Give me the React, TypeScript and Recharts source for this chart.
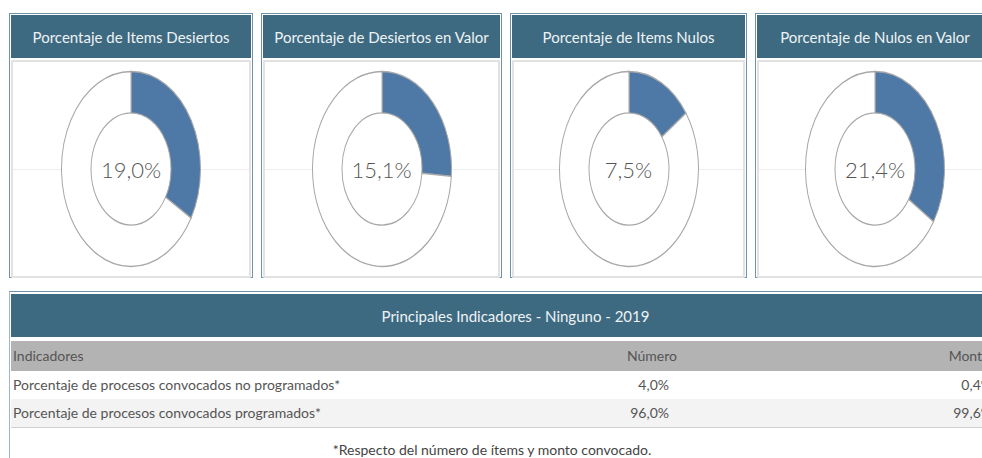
import React from 'react';
import { PieChart, Pie, Cell } from 'recharts';

const titles = [
  'Porcentaje de Items Desiertos',
  'Porcentaje de Desiertos en Valor',
  'Porcentaje de Items Nulos',
  'Porcentaje de Nulos en Valor',
];
const centerLabels = ['19,0%', '15,1%', '7,5%', '21,4%'];
// share of the ring drawn blue (percent)
const sliceShares = [33.4, 26.2, 15.3, 34.1];

const tableTitle = 'Principales Indicadores - Ninguno - 2019';
const columns = ['Indicadores', 'Número', 'Monto'];
const indicadores = [
  'Porcentaje de procesos convocados no programados*',
  'Porcentaje de procesos convocados programados*',
];
const numero = ['4,0%', '96,0%'];
const monto = ['0,4%', '99,6%'];
const footnote = '*Respecto del número de ítems y monto convocado.';

const BLUE = '#4e79a7';
const HEADER = '#3d6a81';
const FONT = 'Lato, Roboto, sans-serif';

const panelLeft = [9, 261, 510, 755];
const panelWidth = [244, 241, 237, 240];

function Donut({ share, label }: { share: number; label: string }) {
  const data = [
    { name: 'si', value: share },
    { name: 'no', value: 100 - share },
  ];
  const m = { top: 0, right: 0, bottom: 0, left: 0 };
  return (
    <div style={{ position: 'absolute', left: '50%', top: 107, width: 142, height: 142, marginLeft: -71, marginTop: -71 }}>
      <div style={{ width: 142, height: 142, transform: 'scaleY(1.403)' }}>
        <PieChart width={142} height={142} margin={m}>
          <Pie data={[{ v: 1 }]} dataKey="v" innerRadius={0} outerRadius={40}
            fill="#fff" stroke="none" isAnimationActive={false} />
          <Pie data={data} dataKey="value" innerRadius={40} outerRadius={69.5}
            startAngle={90} endAngle={-270} isAnimationActive={false}>
            {data.map((d, i) => (
              <Cell key={d.name} fill={i === 0 ? BLUE : '#ffffff'} stroke="#a8a8a8" strokeWidth={1}
                style={{ vectorEffect: 'non-scaling-stroke' } as any} />
            ))}
          </Pie>
        </PieChart>
      </div>
      <div style={{ position: 'absolute', left: 0, top: 58, width: 142, textAlign: 'center', fontSize: 22, color: '#555', fontFamily: FONT, fontWeight: 300 }}>
        {label}
      </div>
    </div>
  );
}

function Panel({ i }: { i: number }) {
  return (
    <div style={{ position: 'absolute', left: panelLeft[i], top: 13, width: panelWidth[i], height: 265,
      border: '1px solid #6f93a8', boxSizing: 'border-box', padding: 1, background: '#fff' }}>
      <div style={{ height: 43, background: HEADER, color: '#eef2f5', fontFamily: FONT, fontSize: 15,
        display: 'flex', alignItems: 'center', justifyContent: 'center' }}>
        {titles[i]}
      </div>
      <div style={{ position: 'relative', marginTop: 2, height: 214, border: '2px solid #e2e2e2', borderRadius: 1 }}>
        <div style={{ position: 'absolute', left: 0, right: 0, top: 107, height: 1, background: '#eeeeee' }} />
        <Donut share={sliceShares[i]} label={centerLabels[i]} />
      </div>
    </div>
  );
}

export default function App() {
  const cell: React.CSSProperties = { position: 'absolute', whiteSpace: 'nowrap' };
  return (
    <div style={{ position: 'fixed', left: 0, top: 0, width: 982, height: 458, background: '#fff', overflow: 'hidden', fontFamily: FONT }}>
      {titles.map((_, i) => <Panel key={i} i={i} />)}
      <div style={{ position: 'absolute', left: 9, top: 291, width: 1010, height: 180, borderTop: '1px solid #6f93a8', borderLeft: '1px solid #9fb6c4' }}>
        <div style={{ position: 'absolute', left: 1, right: 0, top: 2, height: 43, background: HEADER, color: '#eef2f5', fontSize: 15,
          display: 'flex', alignItems: 'center', justifyContent: 'center' }}>
          {tableTitle}
        </div>
        <div style={{ position: 'absolute', left: 1, right: 0, top: 49, height: 30, background: '#b3b3b3', color: '#555', fontSize: 14 }}>
          <span style={{ ...cell, left: 2, top: 6 }}>{columns[0]}</span>
          <span style={{ ...cell, right: 1010 - 667, top: 6 }}>{columns[1]}</span>
          <span style={{ ...cell, right: 30, top: 6 }}>{columns[2]}</span>
        </div>
        {indicadores.map((name, r) => (
          <div key={r} style={{ position: 'absolute', left: 1, right: 0, top: 79 + r * 28, height: 28,
            background: r % 2 ? '#f3f3f3' : '#fff', borderBottom: r === 1 ? '1px solid #d0d0d0' : 'none', color: '#555', fontSize: 14 }}>
            <span style={{ ...cell, left: 2, top: 5 }}>{name}</span>
            <span style={{ ...cell, right: 1010 - 659, top: 5 }}>{numero[r]}</span>
            <span style={{ ...cell, right: 28, top: 5 }}>{monto[r]}</span>
          </div>
        ))}
        <div style={{ position: 'absolute', left: 0, width: 964, top: 149, textAlign: 'center', color: '#444', fontSize: 14 }}>
          {footnote}
        </div>
      </div>
    </div>
  );
}
